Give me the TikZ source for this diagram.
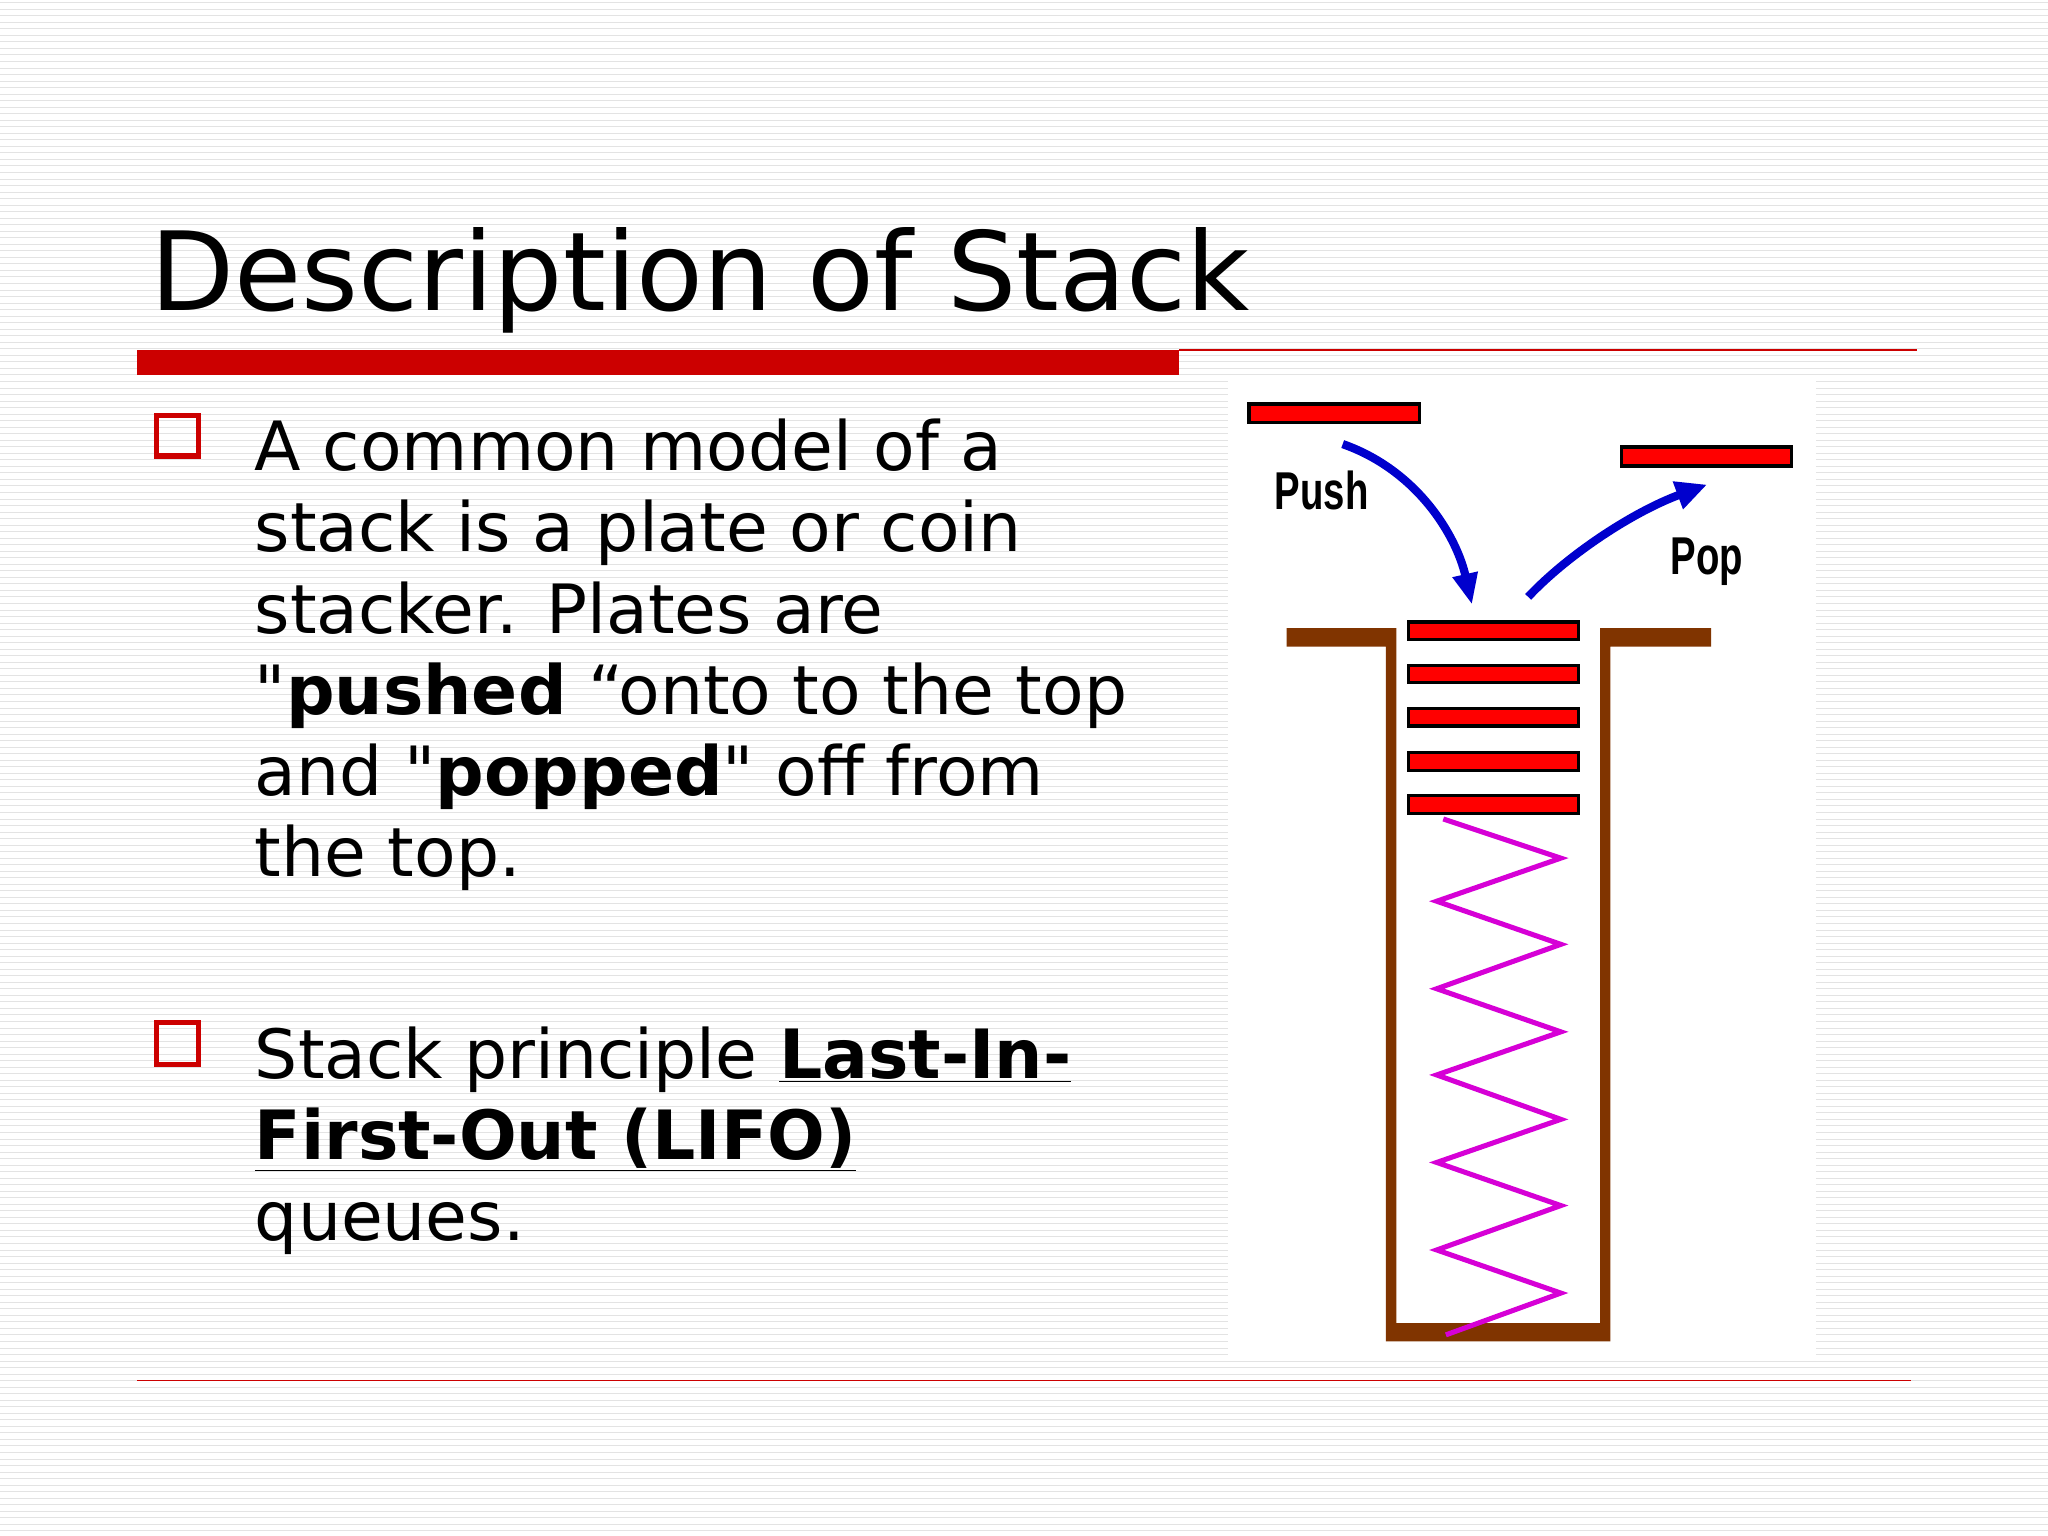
\documentclass[tikz,border=0pt]{standalone}
\usepackage{fontspec}
\setmainfont{DejaVu Sans}
\newfontfamily\lblfont{Liberation Sans}
\usetikzlibrary{arrows.meta}
\definecolor{slidered}{RGB}{204,0,0}
\definecolor{brownc}{RGB}{128,52,0}
\definecolor{springc}{RGB}{214,0,214}
\definecolor{arrowblue}{RGB}{0,0,205}
\tikzset{
  body/.style={anchor=base west,inner sep=0pt,font=\fontsize{74pt}{88pt}\selectfont},
  plate/.style={draw=black,line width=3.5pt,fill=red},
  bulletbox/.style={draw=slidered,line width=6pt},
  wall/.style={fill=brownc,draw=none},
  lbl/.style={inner sep=0pt,font=\lblfont\bfseries\fontsize{58pt}{58pt}\selectfont}
}
\begin{document}
\begin{tikzpicture}[x=0.5mm,y=-0.5mm]
\useasboundingbox (0,0) rectangle (1568,1176);
\fill[white] (0,0) rectangle (1568,1176);
\foreach \k in {2,7,...,1176} \draw[gray!22,line width=0.9pt] (0,\k) -- (1568,\k);
% title
\node[anchor=base west,inner sep=0pt,font=\fontsize{119pt}{124pt}\selectfont] (title) at (115,238) {Description of Stack};
\fill[slidered] (105,268) rectangle (903,287);
\draw[slidered,line width=1.3pt] (903,268) -- (1468,268);
\draw[slidered,line width=1pt] (105,1057) -- (1463,1057);
% bullets
\draw[bulletbox] (120,318) rectangle (152,349);
\draw[bulletbox] (120,783) rectangle (152,815);
\node[body] (l1) at (195,360) {A common model of a};
\node[body] (l2) at (195,422) {stack is a plate or coin};
\node[body] (l3) at (195,485) {stacker. Plates are};
\node[body] (l4) at (195,547) {\textquotedbl\textbf{pushed} “onto to the top};
\node[body] (l5) at (195,609) {and \textquotedbl\textbf{popped}\textquotedbl\ off from};
\node[body] (l6) at (195,671) {the top.};
\node[body] (m1) at (195,826) {Stack principle \textbf{\underline{Last-In-}}};
\node[body] (m2) at (195,888) {\textbf{\underline{First-Out (LIFO)}}};
\node[body] (m3) at (195,950) {queues.};
% picture
\fill[white] (940,287) rectangle (1390,1042);
\fill[wall] (985,481) -- (1069,481) -- (1069,1013) -- (1225,1013) -- (1225,481) -- (1310,481) -- (1310,495) -- (1233,495) -- (1233,1027) -- (1061,1027) -- (1061,495) -- (985,495) -- cycle;
\draw[springc,line width=5.5pt,line join=miter]
  (1105,627) -- (1195,657) -- (1100,690) -- (1195,723) -- (1100,757) -- (1195,790) -- (1100,823) -- (1195,857) -- (1100,890) -- (1195,923) -- (1100,957) -- (1195,990) -- (1107,1022);
\node[plate,minimum width=133*0.5mm-3.5pt,minimum height=17*0.5mm-3.5pt,inner sep=0pt,anchor=north west] (p0) at (955,308) {};
\node[plate,minimum width=133*0.5mm-3.5pt,minimum height=17*0.5mm-3.5pt,inner sep=0pt,anchor=north west] (pp) at (1240,341) {};
\foreach \y/\n in {475/s1,508/s2,541/s3,575/s4,608/s5}
  \node[plate,minimum width=133*0.5mm-3.5pt,minimum height=16*0.5mm-3.5pt,inner sep=0pt,anchor=north west] (\n) at (1077,\y) {};
\coordinate (pushA) at (1028,340);
\coordinate (pushB) at (1127,463);
\coordinate (popA) at (1170,457);
\coordinate (popB) at (1307,371);
\draw[arrowblue,line width=9pt,-{Triangle[length=34pt,width=26pt]}] (pushA) .. controls (1085,360) and (1115,410) .. (pushB);
\draw[arrowblue,line width=9pt,-{Triangle[length=34pt,width=30pt]}] (popA) .. controls (1200,425) and (1250,392) .. (popB);
\node[lbl,anchor=base west,xscale=0.72] (push) at (976,390) {Push};
\node[lbl,anchor=base west,xscale=0.72] (pop) at (1279,440) {Pop};
\end{tikzpicture}
\end{document}
